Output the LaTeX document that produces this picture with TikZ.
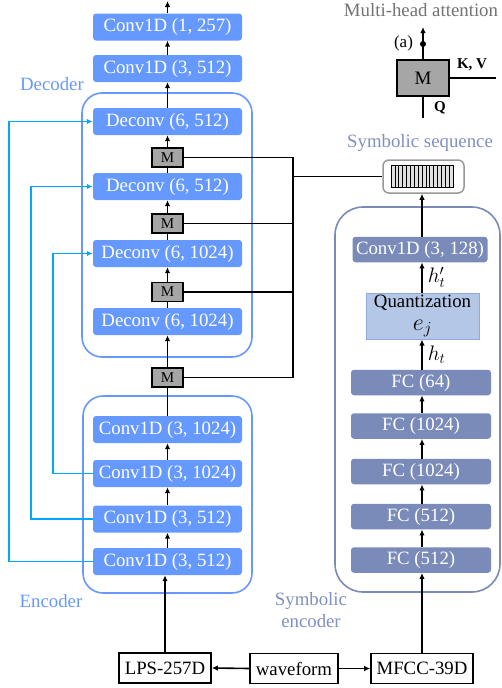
\IfFileExists{fix-cm.sty}{\RequirePackage{fix-cm}}{}
\documentclass[tikz,border=0pt]{standalone}
\usepackage{fontspec}
\setmainfont{Liberation Serif}
\usetikzlibrary{arrows.meta}
\definecolor{bblue}{HTML}{6699FF}
\definecolor{skipc}{HTML}{00A8FA}
\definecolor{slate}{HTML}{7A8BB9}
\definecolor{slatelab}{HTML}{8090C0}
\definecolor{qfill}{HTML}{B4C7E7}
\definecolor{qdraw}{HTML}{8FAADC}
\definecolor{mgray}{HTML}{A6A6A6}
\definecolor{seqgray}{HTML}{999999}
\newcommand\fbig{\fontsize{18.8}{21}\selectfont}
\begin{document}
\begin{tikzpicture}[x=1pt,y=-1pt,
  blk/.style={fill=bblue, text=white, rounded corners=3pt, minimum width=149pt, minimum height=27pt, inner sep=0pt, font=\fbig},
  sblk/.style={fill=slate, text=white, rounded corners=3pt, minimum width=140pt, minimum height=25.5pt, inner sep=0pt, font=\fbig},
  mbox/.style={fill=mgray, draw=black, line width=1.6pt, minimum width=31pt, minimum height=19pt, inner sep=0pt, font=\fontsize{15}{15}\selectfont},
  iobox/.style={draw=black, line width=1.6pt, fill=white, minimum height=30pt, inner sep=0pt, font=\fbig},
  arr/.style={line width=1.6pt, -{Latex[length=6pt,width=5.5pt]}},
  ln/.style={line width=1.6pt},
  skipl/.style={draw=skipc, line width=1.7pt, -{Latex[length=6pt,width=5.5pt]}},
  cont/.style={draw=bblue, line width=1.6pt, rounded corners=20pt},
  lab/.style={font=\fbig, inner sep=0pt}
]
\useasboundingbox (0,0) rectangle (502,688);

% containers
\draw[cont] (82,93) rectangle (252,357);
\draw[cont] (83,396) rectangle (252,593);
\draw[draw=slate, line width=1.6pt, rounded corners=28pt] (335,207) rectangle (500,592);

% decoder
\node[blk] (c1257) at (167.5,27) {Conv1D (1, 257)};
\node[blk] (c3512) at (167.5,68.5) {Conv1D (3, 512)};
\node[blk] (d1) at (167.5,121.5) {Deconv (6, 512)};
\node[mbox] (m1) at (167.5,157.5) {M};
\node[blk] (d2) at (167.5,186.5) {Deconv (6, 512)};
\node[mbox] (m2) at (167.5,223.5) {M};
\node[blk] (d3) at (167.5,253.5) {Deconv (6, 1024)};
\node[mbox] (m3) at (167.5,292) {M};
\node[blk] (d4) at (167.5,321.5) {Deconv (6, 1024)};
\node[mbox] (m4) at (167.5,377.5) {M};

% encoder
\node[blk] (e4) at (167.5,429.5) {Conv1D (3, 1024)};
\node[blk] (e3) at (167.5,473.5) {Conv1D (3, 1024)};
\node[blk] (e2) at (167.5,519) {Conv1D (3, 512)};
\node[blk] (e1) at (167.5,561.5) {Conv1D (3, 512)};

% labels
\node[lab, text=bblue] (declab) at (52,84) {Decoder};
\node[lab, text=bblue] (enclab) at (51,601) {Encoder};
\node[lab, text=slatelab, align=center] (symenclab) at (311,610) {Symbolic\\[1pt]encoder};
\node[lab, text=slatelab] (seqlab) at (420,143) {Symbolic sequence};
\node[lab, text=black!55] (mhalab) at (421,10) {Multi-head attention};

% inputs
\node[iobox, minimum width=92pt] (lps) at (165,668) {LPS-257D};
\node[iobox, minimum width=88pt] (wave) at (294,668.5) {waveform};
\node[iobox, minimum width=102pt] (mfcc) at (422,668.5) {MFCC-39D};

% symbolic encoder
\node[sblk, minimum width=135pt] (s128) at (420,249.5) {Conv1D (3, 128)};
\node[fill=qfill, draw=qdraw, line width=1pt, minimum width=113pt, minimum height=46pt, inner sep=0pt, align=center, font=\fbig] (quant) at (422.5,316) {Quantization\\[2pt]{\fontsize{24}{24}\selectfont$e_j$}};
\node[sblk] (fc64) at (421,382.5) {FC (64)};
\node[sblk] (fc1024a) at (421,426) {FC (1024)};
\node[sblk] (fc1024b) at (421,471.5) {FC (1024)};
\node[sblk] (fc512a) at (421,516.5) {FC (512)};
\node[sblk] (fc512b) at (421,560) {FC (512)};

% symbolic sequence
\node[draw=seqgray, line width=1.5pt, fill=white, rounded corners=6pt, minimum width=81pt, minimum height=33pt, inner sep=0pt] (sym) at (423.5,176.5) {};
\fill[black!12] (391,165) rectangle (453,187);
\foreach \i in {0,...,16} {
  \draw[line width=0.6pt] ({391+\i*62/16},165) -- ({391+\i*62/16},187);
}
\draw[line width=0.8pt] (391,165) rectangle (453,187);

% decoder chain
\coordinate (outtop) at (167.5,1);
\draw[arr] (c1257.north) -- (outtop);
\draw[arr] (c3512.north) -- (c1257.south);
\draw[arr] (d1.north) -- (c3512.south);
\draw[arr] (m1.north) -- (d1.south);
\draw[ln] (d2.north) -- (m1.south);
\draw[arr] (m2.north) -- (d2.south);
\draw[ln] (d3.north) -- (m2.south);
\draw[arr] (m3.north) -- (d3.south);
\draw[ln] (d4.north) -- (m3.south);
\draw[arr] (m4.north) -- (d4.south);
\draw[ln] (e4.north) -- (m4.south);

% encoder chain
\draw[arr] (e3.north) -- (e4.south);
\draw[arr] (e2.north) -- (e3.south);
\draw[arr] (e1.north) -- (e2.south);
\draw[arr] (lps.north) -- (lps.north |- e1.south);

% inputs
\draw[arr] (wave.west) -- (lps.east);
\draw[arr] (wave.east) -- (mfcc.west);

% skip connections
\draw[skipl] (e1.west) -- (9,561.5) |- (d1.west);
\draw[skipl] (e2.west) -- (31,519) |- (d2.west);
\draw[skipl] (e3.west) -- (53,473.5) |- (d3.west);

% attention key/value lines
\coordinate (vtop) at (293,157.5);
\coordinate (vbot) at (293,377.5);
\coordinate (vsym) at (293,176.5);
\draw[ln] (m1.east) -- (vtop) -- (vbot) -- (m4.east);
\draw[ln] (m2.east) -- (m2.east -| vtop);
\draw[ln] (m3.east) -- (m3.east -| vtop);
\draw[ln] (vsym) -- (sym.west);

% symbolic encoder chain
\draw[arr] (mfcc.north) -- (mfcc.north |- fc512b.south);
\draw[arr] (fc512b.north -| mfcc.north) -- (fc512a.south -| mfcc.north);
\draw[arr] (fc512a.north -| mfcc.north) -- (fc1024b.south -| mfcc.north);
\draw[arr] (fc1024b.north -| mfcc.north) -- (fc1024a.south -| mfcc.north);
\draw[arr] (fc1024a.north -| mfcc.north) -- (fc64.south -| mfcc.north);
\draw[arr] (fc64.north -| mfcc.north) -- (quant.south -| mfcc.north) node[pos=0.5, right=5pt, font=\fontsize{21}{21}\selectfont, inner sep=0pt] (htlab) {$h_t$};
\draw[arr] (quant.north -| mfcc.north) -- (s128.south -| mfcc.north) node[pos=0.5, right=5pt, font=\fontsize{21}{21}\selectfont, inner sep=0pt] (htplab) {$h'_t$};
\draw[arr] (s128.north -| mfcc.north) -- (sym.south -| mfcc.north);

% inset
\node[fill=mgray, draw=black, line width=1.6pt, minimum width=52pt, minimum height=36pt, inner sep=0pt, font=\fontsize{19}{19}\selectfont] (minset) at (423,78) {M};
\coordinate (qin) at (423,118);
\coordinate (aout) at (423,27);
\coordinate (kvend) at (496,78);
\draw[ln] (qin) -- (minset.south);
\draw[arr] (minset.north) -- (aout);
\fill (423,44) circle (3pt);
\draw[ln] (minset.east) -- (kvend);
\node[font=\fontsize{17}{17}\selectfont, inner sep=0pt] (alab) at (403.5,43) {(a)};
\node[font=\bfseries\fontsize{15}{15}\selectfont, inner sep=0pt] (kvlab) at (472,65) {K, V};
\node[font=\bfseries\fontsize{15}{15}\selectfont, inner sep=0pt] (qlab) at (440,108) {Q};
\end{tikzpicture}
\end{document}
